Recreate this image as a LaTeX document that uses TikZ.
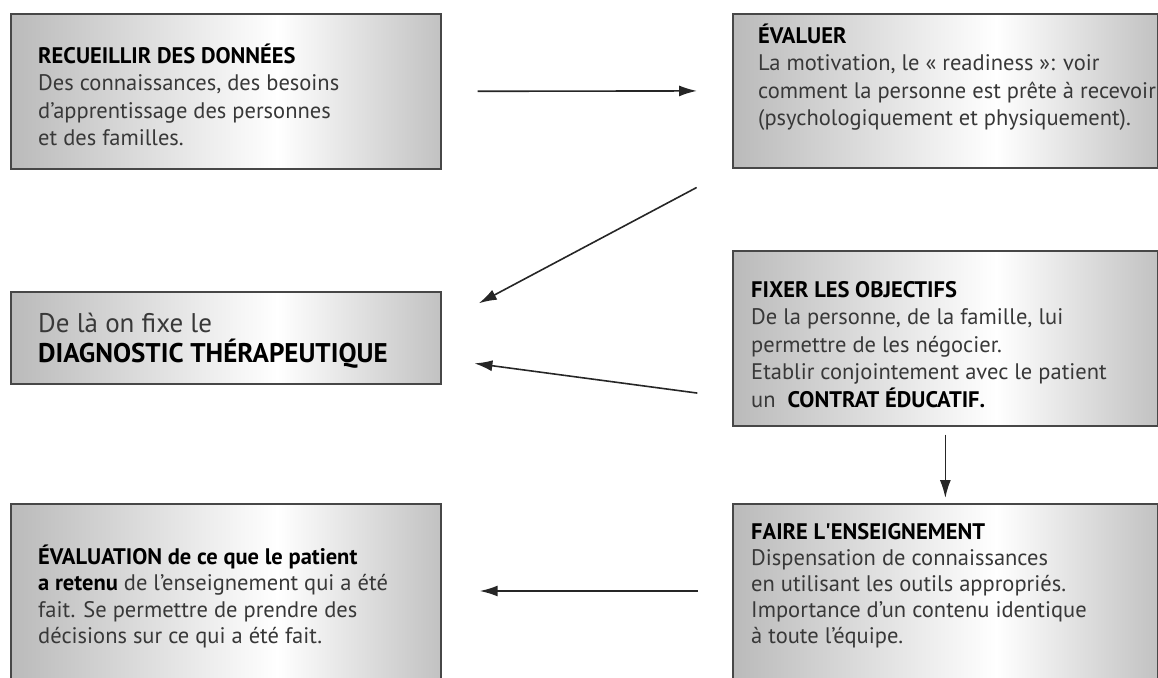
\documentclass[tikz,border=0pt]{standalone}
\usepackage{fontspec}
\setmainfont{PT Sans}
\newfontfamily\straightfont{PT Sans}[Ligatures=TeXOff]
\usetikzlibrary{arrows.meta,calc}

% fond des cadres : gris a gauche, blanc vers la droite, puis gris
\pgfdeclarehorizontalshading{boxshade}{100bp}{color(0bp)=(black!27); color(25bp)=(black!27);
  color(56bp)=(white); color(75bp)=(black!24); color(100bp)=(black!24)}

\tikzset{
  box/.style={draw=black!72, line width=1.7pt, shade, shading=boxshade,
    anchor=north west, inner sep=0pt},
  txt/.style={anchor=north west, inner sep=0pt, align=left, text=black!78,
    font=\fontsize{22.5}{27.5}\selectfont},
  flow/.style={line width=1.6pt, draw=black!85, -{Latex[length=18pt,width=11pt]}}
}
\newcommand{\hdr}[1]{{\color{black}\bfseries #1}}
\newcommand{\firstln}{\rule{0pt}{20pt}}

\begin{document}
\begin{tikzpicture}[x=1pt, y=-1pt]
    \useasboundingbox (0,0) rectangle (1158,677);
    \clip (0,0) rectangle (1158,677);
    % cadres
    \node[box, minimum width=430pt, minimum height=155pt] (recueillir) at (10,13) {};
    \node[box, minimum width=425pt, minimum height=154pt] (evaluer) at (732,13) {};
    \node[box, minimum width=430pt, minimum height=92pt] (diagnostic) at (10,291) {};
    \node[box, minimum width=425pt, minimum height=175pt] (fixer) at (732,250) {};
    \node[box, minimum width=430pt, minimum height=200pt] (evaluation) at (10,503) {};
    \node[box, minimum width=425pt, minimum height=200pt] (enseignement) at (732,503) {};
    % textes
    \node[txt] (recueillir-t) at ($(recueillir.north west)+(28,30)$)
        {\firstln\hdr{RECUEILLIR DES DONNÉES}\\ Des connaissances, des besoins\\
         d’apprentissage des personnes\\ et des familles.};
    \node[txt] (evaluer-t) at ($(evaluer.north west)+(26,10)$)
        {\firstln\hdr{ÉVALUER}\\ La motivation, le «~readiness~»: voir\\
         comment la personne est prête à recevoir\\ (psychologiquement et physiquement).};
    \node[txt, font=\fontsize{27}{30}\selectfont] (diagnostic-t) at ($(diagnostic.north west)+(28,21)$)
        {\firstln De là on fixe le\\ \hdr{DIAGNOSTIC THÉRAPEUTIQUE}};
    \node[txt] (fixer-t) at ($(fixer.north west)+(19,27)$)
        {\firstln\hdr{FIXER LES OBJECTIFS}\\ De la personne, de la famille, lui\\
         permettre de les négocier.\\ Etablir conjointement avec le patient\\
         un \ \hdr{CONTRAT ÉDUCATIF.}};
    \node[txt, font=\fontsize{22.5}{26.5}\selectfont] (evaluation-t) at ($(evaluation.north west)+(28,41)$)
        {\firstln\hdr{ÉVALUATION de ce que le patient}\\ \hdr{a retenu} de l’enseignement qui a été\\
         fait. Se permettre de prendre des\\ décisions sur ce qui a été fait.};
    \node[txt, font=\fontsize{22.5}{26}\selectfont] (enseignement-t) at ($(enseignement.north west)+(19,16)$)
        {\firstln\hdr{FAIRE L{\straightfont'}ENSEIGNEMENT}\\ Dispensation de connaissances\\
         en utilisant les outils appropriés.\\ Importance d’un contenu identique\\
         à toute l’équipe.};
    % fleches
    \draw[flow, shorten <=36pt, shorten >=35pt] (recueillir.east) -- (evaluer.west);
    \draw[flow, shorten <=40pt, shorten >=42pt] (evaluer.south west) -- ($(diagnostic.north east)+(0,32)$);
    \draw[flow, shorten <=35pt, shorten >=33pt] ($(fixer.south west)+(0,-29)$) -- ($(diagnostic.north east)+(0,68)$);
    \draw[flow, shorten <=8pt, shorten >=5pt] (fixer.south) -- (enseignement.north);
    \draw[flow, shorten <=34pt, shorten >=38pt] ($(enseignement.north west)+(0,88)$) -- ($(evaluation.north east)+(0,88)$);
\end{tikzpicture}
\end{document}
